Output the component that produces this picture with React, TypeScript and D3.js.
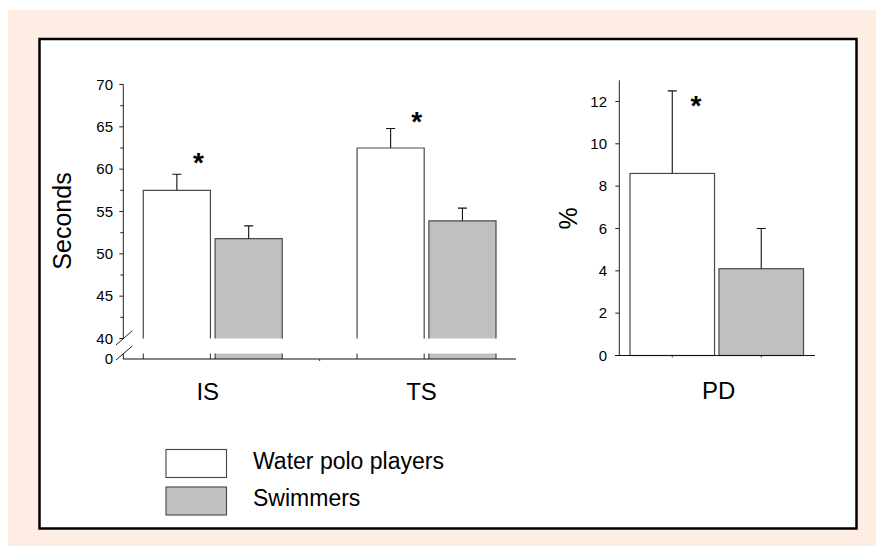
import React from "react";
import * as d3 from "d3";

const categories = ["IS", "TS"];
const seriesNames = ["Water polo players", "Swimmers"];
const waterPolo = [57.5, 62.5];
const waterPoloSD = [1.9, 2.3];
const swimmers = [51.8, 53.9];
const swimmersSD = [1.5, 1.5];

const pdCategories = ["PD"];
const waterPoloPD = [8.6];
const waterPoloPDSD = [3.9];
const swimmersPD = [4.1];
const swimmersPDSD = [1.9];

const leftMajorTicks = [40, 45, 50, 55, 60, 65, 70];
const leftMinorTicks = [42.5, 47.5, 52.5, 57.5, 62.5, 67.5];
const rightTicks = [0, 2, 4, 6, 8, 10, 12];

// significance stars: [category, value (y), fraction across white bar]
const leftStars = [
  { cat: "IS", y: 61.5, f: 0.82 },
  { cat: "TS", y: 66.35, f: 0.89 },
];
const rightStars = [{ cat: "PD", y: 12.1, f: 0.78 }];

const FONT = "'Liberation Sans', Arial, Helvetica, sans-serif";
const STROKE = "#4a4a4a";
const GRAY = "#c0c0c0";

export default function App() {
  // Left panel scales
  const xL = d3.scaleBand().domain(categories).range([143.3, 143.3 + 213.7 + 139]).paddingInner(0.35).paddingOuter(0);
  const xLs = d3.scaleBand().domain(seriesNames).range([0, xL.bandwidth()]).paddingInner(0.065);
  const yL = d3.scaleLinear().domain([40, 70]).range([338.5, 84.5]);
  const yLow = d3.scaleLinear().domain([0, 1]).range([359, 353.5]);
  const axisXL = 123.3;
  const baseEndL = 516;

  // Right panel scales
  const xR = d3.scaleBand().domain(pdCategories).range([630, 803.5]).paddingInner(0).paddingOuter(0);
  const xRs = d3.scaleBand().domain(seriesNames).range([0, xR.bandwidth()]).paddingInner(0.05);
  const yR = d3.scaleLinear().domain([0, 13]).range([355.5, 80.3]);
  const axisXR = 619.3;

  const leftBars = categories.flatMap((c, i) => [
    { cat: c, s: seriesNames[0], v: waterPolo[i], sd: waterPoloSD[i], fill: "#fff" },
    { cat: c, s: seriesNames[1], v: swimmers[i], sd: swimmersSD[i], fill: GRAY },
  ]);
  const rightBars = pdCategories.flatMap((c, i) => [
    { cat: c, s: seriesNames[0], v: waterPoloPD[i], sd: waterPoloPDSD[i], fill: "#fff" },
    { cat: c, s: seriesNames[1], v: swimmersPD[i], sd: swimmersPDSD[i], fill: GRAY },
  ]);

  const gapMid = ((xL("IS") as number) + xL.bandwidth() + (xL("TS") as number)) / 2;

  return (
    <svg width={876} height={546} style={{ position: "absolute", left: 0, top: 0, display: "block" }} fontFamily={FONT}>
      <rect x={0} y={0} width={876} height={546} fill="#fff" />
      <rect x={8} y={10} width={868} height={536} fill="#fdede3" />
      <rect x={39.5} y={39} width={817} height={489.5} fill="#fff" stroke="#000" strokeWidth={2.5} />

      {/* LEFT PANEL */}
      {leftBars.map((b, i) => {
        const x0 = (xL(b.cat) as number) + (xLs(b.s) as number);
        const w = xLs.bandwidth();
        const top = yL(b.v);
        const bot = yL(40);
        const cx = x0 + w / 2;
        const et = yL(b.v + b.sd);
        return (
          <g key={"lb" + i}>
            <rect x={x0} y={top} width={w} height={bot - top} fill={b.fill} />
            <path d={`M${x0},${bot} V${top} H${x0 + w} V${bot}`} fill="none" stroke={STROKE} strokeWidth={1.2} />
            <rect x={x0} y={yLow(1)} width={w} height={yLow(0) - yLow(1)} fill={b.fill} />
            <path d={`M${x0},${yLow(1)} V${yLow(0)} M${x0 + w},${yLow(1)} V${yLow(0)}`} stroke={STROKE} strokeWidth={1.2} />
            <path d={`M${cx},${top} V${et} M${cx - 4.5},${et} H${cx + 4.5}`} stroke="#111" strokeWidth={1.1} fill="none" />
          </g>
        );
      })}
      {/* left y axis */}
      <line x1={axisXL} x2={axisXL} y1={yL(70)} y2={yL(40)} stroke="#222" strokeWidth={1} />
      {leftMajorTicks.map((t) => (
        <g key={"lt" + t}>
          <line x1={axisXL - 4} x2={axisXL} y1={yL(t)} y2={yL(t)} stroke="#222" strokeWidth={1} />
          <text x={113} y={yL(t)} dy="0.35em" textAnchor="end" fontSize={15} fill="#000">{t}</text>
        </g>
      ))}
      {leftMinorTicks.map((t) => (
        <line key={"lm" + t} x1={axisXL - 3} x2={axisXL} y1={yL(t)} y2={yL(t)} stroke="#222" strokeWidth={1} />
      ))}
      <line x1={axisXL} x2={axisXL} y1={yLow(1)} y2={yLow(0)} stroke="#222" strokeWidth={1} />
      <text x={113} y={yLow(0)} dy="0.35em" textAnchor="end" fontSize={15} fill="#000">0</text>
      {/* break marks */}
      <line x1={116} y1={345} x2={132.3} y2={330.7} stroke="#222" strokeWidth={1} />
      <line x1={116} y1={360} x2={132.3} y2={346} stroke="#222" strokeWidth={1} />
      {/* baseline */}
      <line x1={axisXL} x2={baseEndL} y1={yLow(0)} y2={yLow(0)} stroke="#111" strokeWidth={1.2} />
      <line x1={gapMid} x2={gapMid} y1={yLow(0)} y2={yLow(0) + 2} stroke="#333" />
      {categories.map((c) => (
        <text key={"lc" + c} x={(xL(c) as number) + xL.bandwidth() / 2 - 5} y={400} textAnchor="middle" fontSize={24} fill="#000">{c}</text>
      ))}
      {leftStars.map((s, i) => {
        const x = (xL(s.cat) as number) + (xLs(seriesNames[0]) as number) + xLs.bandwidth() * s.f;
        return (
          <text key={"ls" + i} x={x} y={yL(s.y) + 16} textAnchor="middle" fontSize={28} fontWeight="bold" fill="#000">*</text>
        );
      })}
      <text transform={`translate(70.7,221) rotate(-90)`} textAnchor="middle" fontSize={25} fill="#000">Seconds</text>

      {/* RIGHT PANEL */}
      {rightBars.map((b, i) => {
        const x0 = (xR(b.cat) as number) + (xRs(b.s) as number);
        const w = xRs.bandwidth();
        const top = yR(b.v);
        const bot = yR(0);
        const cx = x0 + w / 2;
        const et = yR(b.v + b.sd);
        return (
          <g key={"rb" + i}>
            <rect x={x0} y={top} width={w} height={bot - top} fill={b.fill} stroke={STROKE} strokeWidth={1.2} />
            <path d={`M${cx},${top} V${et} M${cx - 4.5},${et} H${cx + 4.5}`} stroke="#111" strokeWidth={1.1} fill="none" />
            <line x1={cx} x2={cx} y1={bot} y2={bot + 2} stroke="#333" />
          </g>
        );
      })}
      <line x1={axisXR} x2={axisXR} y1={yR(13)} y2={yR(0)} stroke="#222" strokeWidth={1} />
      {rightTicks.map((t) => (
        <g key={"rt" + t}>
          <line x1={axisXR - 4} x2={axisXR} y1={yR(t)} y2={yR(t)} stroke="#222" strokeWidth={1} />
          <text x={607} y={yR(t)} dy="0.35em" textAnchor="end" fontSize={15} fill="#000">{t}</text>
        </g>
      ))}
      <line x1={615} x2={815} y1={yR(0)} y2={yR(0)} stroke="#111" strokeWidth={1.2} />
      {pdCategories.map((c) => (
        <text key={"rc" + c} x={(xR(c) as number) + xR.bandwidth() / 2 + 2} y={399} textAnchor="middle" fontSize={24} fill="#000">{c}</text>
      ))}
      {rightStars.map((s, i) => {
        const x = (xR(s.cat) as number) + (xRs(seriesNames[0]) as number) + xRs.bandwidth() * s.f;
        return (
          <text key={"rs" + i} x={x} y={yR(s.y) + 16} textAnchor="middle" fontSize={28} fontWeight="bold" fill="#000">*</text>
        );
      })}
      <text transform={`translate(577,218.5) rotate(-90)`} textAnchor="middle" fontSize={25} fill="#000">%</text>

      {/* LEGEND */}
      {seriesNames.map((s, i) => (
        <g key={"lg" + i} transform={`translate(166,${449.5 + i * 37.5})`}>
          <rect x={0} y={0} width={60.5} height={28} fill={i === 0 ? "#fff" : GRAY} stroke="#444" strokeWidth={1.1} />
          <text x={87} y={19} fontSize={23} fill="#000">{s}</text>
        </g>
      ))}
    </svg>
  );
}
